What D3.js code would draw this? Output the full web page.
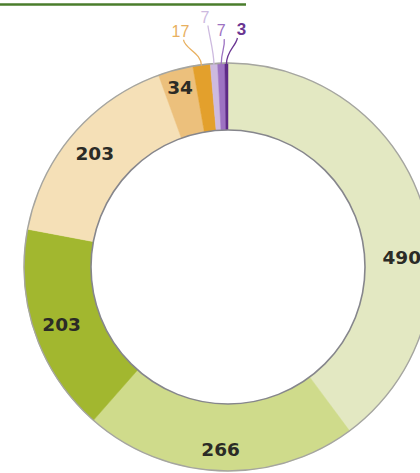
<!DOCTYPE html>
<html><head><meta charset="utf-8">
<script src="https://cdn.jsdelivr.net/npm/d3@7"></script>
<style>body{margin:0;background:#fff}svg{display:block}</style>
</head><body>
<svg id="c" width="420" height="473"></svg>
<script>
// ---- data ----
const categories = ["A","B","C","D","E","F","G","H","I"];
const values = [490, 266, 203, 203, 34, 17, 7, 7, 3];
const labels = ["490","266","203","203","34","17","7","7","3"];

// ---- styles ----
const fillColors = ["#e3e8c2","#cfdb8b","#a2b72f","#f5e0b7","#ecc07c","#e3a02c","#cdbadf","#9d72c2","#5e2a86"];
const smallLabelColors = ["#e8b060","#cdbadf","#9d72c2","#6a3592"];

const svg = d3.select("#c");
const cx = 228, cy = 267, R = 204, r = 137;

// header rule
svg.append("line").attr("x1",0).attr("x2",246).attr("y1",4.5).attr("y2",4.5)
  .attr("stroke","#4a7d2c").attr("stroke-width",2.6);

const g = svg.append("g").attr("transform",`translate(${cx},${cy})`);
const data = categories.map((c,i)=>({cat:c, value:values[i], label:labels[i], i}));
const pie = d3.pie().sort(null).value(d=>d.value).startAngle(0).endAngle(2*Math.PI);
const arcs = pie(data);
const arc = d3.arc().innerRadius(r-2).outerRadius(R);

g.selectAll("path.slice").data(arcs).join("path")
  .attr("class","slice")
  .attr("d",arc)
  .attr("fill",(d,i)=>fillColors[i])
  .attr("stroke",(d,i)=>fillColors[i]).attr("stroke-width",0.5);

// outer rim
g.append("circle").attr("r",R).attr("fill","none").attr("stroke","#a5a5a0").attr("stroke-width",1.4);
// inner hole
g.append("circle").attr("r",r).attr("fill","#fff").attr("stroke","#86868c").attr("stroke-width",1.6);

// big labels (layout: radius per label, first label rotated lower)
const bigArcs = arcs.filter(d=>d.data.value>=30);
const labelRadius = [174, 182, 176, 175, 186];
g.selectAll("text.big").data(bigArcs).join("text")
  .attr("class","big")
  .each(function(d,k){
    let a = (d.startAngle+d.endAngle)/2;
    if (d.index===0) a = Math.PI*0.482;
    const rr = labelRadius[k];
    d3.select(this).attr("x", rr*Math.sin(a)).attr("y", -rr*Math.cos(a));
  })
  .attr("text-anchor","middle").attr("dy","0.36em")
  .attr("font-family","'DejaVu Sans', Verdana, sans-serif").attr("font-weight","bold")
  .attr("font-size",18.5).attr("fill","#2b2b26")
  .text(d=>d.data.label);

// small labels with leader lines
const smallArcs = arcs.filter(d=>d.data.value<30);
const offsets = [[-21,-29],[-9,-42],[0,-28],[15,-29]];
smallArcs.forEach((d,k)=>{
  const a = (d.startAngle+d.endAngle)/2;
  const x0 = R*Math.sin(a), y0 = -R*Math.cos(a) + 1;
  const lx = x0+offsets[k][0], ly = y0+offsets[k][1];
  const col = smallLabelColors[k];
  g.append("path")
    .attr("d",`M${x0},${y0} C${x0},${y0-13} ${lx+ (k===3?-6:4)},${ly+12} ${lx+(k===3?-4:3)},${ly+3}`)
    .attr("fill","none").attr("stroke",col).attr("stroke-width",1.3);
  g.append("text").attr("x",lx).attr("y",ly)
    .attr("text-anchor","middle")
    .attr("font-family","'Liberation Sans Narrow','Liberation Sans', Arial, sans-serif")
    .attr("font-size",k===3?17:16).attr("fill",col)
    .attr("font-weight",k===3?"bold":"normal")
    .text(d.data.label);
});
</script>
</body></html>
